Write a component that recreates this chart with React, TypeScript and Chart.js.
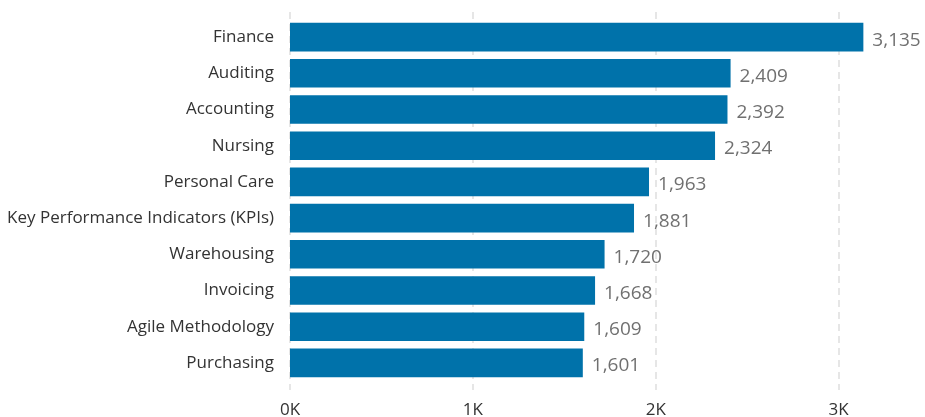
import React, { useEffect, useRef } from 'react';
import { Chart, registerables } from 'chart.js';

Chart.register(...registerables);

const categories = [
  'Finance',
  'Auditing',
  'Accounting',
  'Nursing',
  'Personal Care',
  'Key Performance Indicators (KPIs)',
  'Warehousing',
  'Invoicing',
  'Agile Methodology',
  'Purchasing',
];
const values = [3135, 2409, 2392, 2324, 1963, 1881, 1720, 1668, 1609, 1601];
const xTickValues = [0, 1000, 2000, 3000];

const FONT = "'Open Sans', 'Noto Sans', sans-serif";

export default function App() {
  const ref = useRef<HTMLCanvasElement>(null);

  useEffect(() => {
    if (!ref.current) return;

    const gridPlugin = {
      id: 'dashGrid',
      beforeDatasetsDraw(chart: any) {
        const { ctx, chartArea, scales } = chart;
        const x = scales.x;
        ctx.save();
        ctx.strokeStyle = '#e6e6e6';
        ctx.lineWidth = 2;
        ctx.setLineDash([7, 5]);
        xTickValues.forEach((v) => {
          const px = Math.round(x.getPixelForValue(v));
          ctx.beginPath();
          ctx.moveTo(px, chartArea.top - 7);
          ctx.lineTo(px, chartArea.bottom + 9);
          ctx.stroke();
        });
        ctx.restore();
      },
    };

    const valuePlugin = {
      id: 'valueLabels',
      afterDatasetsDraw(chart: any) {
        const { ctx } = chart;
        const meta = chart.getDatasetMeta(0);
        ctx.save();
        ctx.fillStyle = '#707070';
        ctx.font = `19px ${FONT}`;
        ctx.textAlign = 'left';
        ctx.textBaseline = 'middle';
        meta.data.forEach((bar: any, i: number) => {
          ctx.fillText(values[i].toLocaleString('en-US'), bar.x + 9, bar.y + 3);
        });
        ctx.restore();
      },
    };

    const chart = new Chart(ref.current, {
      type: 'bar',
      data: {
        labels: categories,
        datasets: [
          {
            data: values,
            backgroundColor: '#0072AA',
            borderWidth: 0,
            categoryPercentage: 1,
            barPercentage: 0.79,
          },
        ],
      },
      options: {
        indexAxis: 'y',
        animation: false,
        responsive: true,
        maintainAspectRatio: false,
        layout: { padding: { top: 19, right: 0, bottom: 0, left: 0 } },
        plugins: {
          legend: { display: false },
          tooltip: { enabled: false },
        },
        scales: {
          x: {
            type: 'linear',
            min: 0,
            max: 3472,
            afterBuildTicks: (scale: any) => {
              scale.ticks = xTickValues.map((v) => ({ value: v }));
            },
            afterFit: (scale: any) => {
              scale.height = 36;
              scale.paddingLeft = 0;
              scale.paddingRight = 0;
            },
            grid: { display: false, drawTicks: false },
            border: { display: false },
            ticks: {
              padding: 19,
              color: '#333333',
              font: { family: FONT, size: 17 },
              callback: (v: any) => `${Number(v) / 1000}K`,
            },
          },
          y: {
            type: 'category',
            afterFit: (scale: any) => {
              scale.width = 290;
              scale.paddingTop = 0;
              scale.paddingBottom = 0;
            },
            grid: { display: false, drawTicks: false },
            border: { display: false },
            ticks: {
              padding: 16,
              color: '#333333',
              font: { family: FONT, size: 17 },
            },
          },
        },
      },
      plugins: [gridPlugin, valuePlugin],
    });

    return () => chart.destroy();
  }, []);

  return (
    <div style={{ position: 'absolute', left: 0, top: 0, width: 925, height: 417 }}>
      <canvas ref={ref} />
    </div>
  );
}
